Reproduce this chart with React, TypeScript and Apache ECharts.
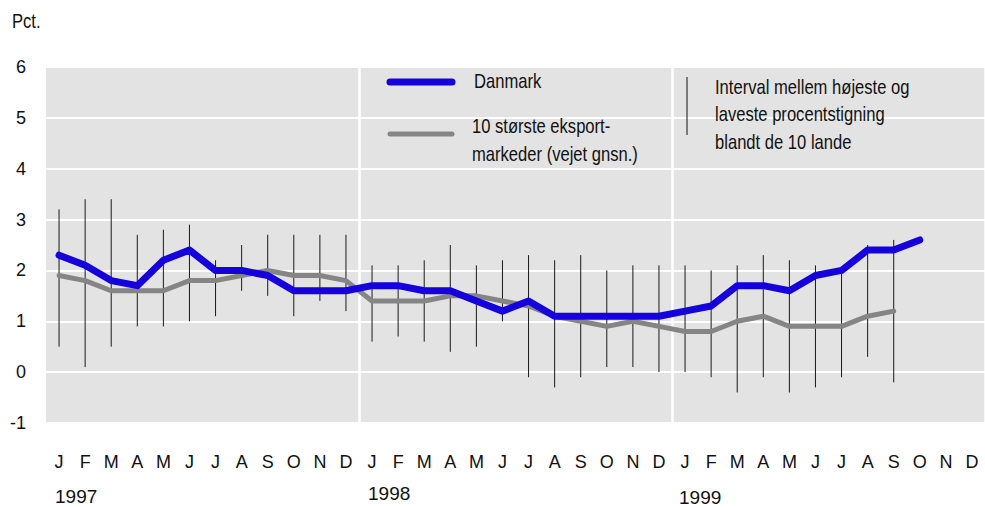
import React, { useEffect, useRef } from "react";
import * as echarts from "echarts";

const months = ["J","F","M","A","M","J","J","A","S","O","N","D","J","F","M","A","M","J","J","A","S","O","N","D","J","F","M","A","M","J","J","A","S","O","N","D"];
const years = ["1997", "1998", "1999"];
const yTicks = [-1, 0, 1, 2, 3, 4, 5, 6];

const danmark = [2.3,2.1,1.8,1.7,2.2,2.4,2.0,2.0,1.9,1.6,1.6,1.6, 1.7,1.7,1.6,1.6,1.4,1.2,1.4,1.1,1.1,1.1,1.1,1.1, 1.2,1.3,1.7,1.7,1.6,1.9,2.0,2.4,2.4,2.6];
const eksport = [1.9,1.8,1.6,1.6,1.6,1.8,1.8,1.9,2.0,1.9,1.9,1.8, 1.4,1.4,1.4,1.5,1.5,1.4,1.3,1.1,1.0,0.9,1.0,0.9, 0.8,0.8,1.0,1.1,0.9,0.9,0.9,1.1,1.2];
const high = [3.2,3.4,3.4,2.7,2.8,2.9,2.2,2.5,2.7,2.7,2.7,2.7, 2.1,2.1,2.2,2.5,2.1,2.2,2.3,2.2,2.3,2.0,2.1,2.1, 2.1,2.0,2.1,2.3,2.2,2.1,2.0,2.5,2.6];
const low = [0.5,0.1,0.5,0.9,0.9,1.0,1.1,1.6,1.5,1.1,1.4,1.2, 0.6,0.7,0.6,0.4,0.5,1.0,-0.1,-0.3,-0.1,0.1,0.1,0.0, 0.0,-0.1,-0.4,-0.1,-0.4,-0.3,-0.1,0.3,-0.2];

const legendDanmark = "Danmark";
const legendEksport = ["10 største eksport-", "markeder (vejet gnsn.)"];
const legendInterval = ["Interval mellem højeste og", "laveste procentstigning", "blandt de 10 lande"];

const FONT = '"Liberation Sans Narrow", "Arial Narrow", "Liberation Sans", Arial, sans-serif';
const BLUE = "#1500dd";
const GRAY = "#858585";
const TXT = "#111";
const SX = 0.83;

export default function App() {
  const ref = useRef<HTMLDivElement>(null);
  useEffect(() => {
    document.body.style.margin = "0";
    const chart = echarts.init(ref.current!, null, { renderer: "svg" });
    const yearLabels = months.map((_, i) => (i % 12 === 0 ? years[i / 12] : ""));
    const errData = high.map((h, i) => [i, low[i], h]);
    const legendText = (text: string, x: number, y: number) => ({
      type: "text",
      x,
      y,
      scaleX: SX,
      z: 10,
      style: { text, fontSize: 20, fontFamily: FONT, fill: TXT, verticalAlign: "middle" },
    });
    chart.setOption({
      animation: false,
      textStyle: { fontFamily: FONT },
      grid: {
        left: 46, right: -7, top: 67, bottom: 84,
        show: true, backgroundColor: "#e3e3e3", borderWidth: 0,
      },
      xAxis: [
        {
          type: "category",
          data: months,
          boundaryGap: true,
          axisLine: { show: false },
          axisTick: { show: false },
          axisLabel: { interval: 0, color: TXT, fontSize: 18, fontFamily: FONT, margin: 30 },
          splitLine: {
            show: true,
            interval: (i: number) => i === 12 || i === 24,
            lineStyle: { color: "#ffffff", width: 2.5 },
          },
        },
        {
          type: "category",
          data: yearLabels,
          position: "bottom",
          boundaryGap: true,
          axisLine: { show: false },
          axisTick: { show: false },
          splitLine: { show: false },
          axisLabel: {
            interval: 0,
            align: "left",
            color: TXT,
            fontSize: 19,
            fontFamily: FONT,
            margin: 61,
            formatter: (v: string) => {
              if (v === "1997") return "{a|" + v + "}";
              if (v === "1999") return "{c|" + v + "}";
              return v ? "{b|" + v + "}" : "";
            },
            rich: {
              a: { fontSize: 19, fontFamily: FONT, color: TXT, padding: [3, 0, 0, -4] },
              b: { fontSize: 19, fontFamily: FONT, color: TXT, padding: [0, 0, 0, -4] },
              c: { fontSize: 19, fontFamily: FONT, color: TXT, padding: [4, 0, 0, -6] },
            },
          },
        },
      ],
      yAxis: {
        type: "value",
        min: yTicks[0],
        max: yTicks[yTicks.length - 1],
        interval: 1,
        axisLine: { show: false },
        axisTick: { show: false },
        axisLabel: { color: TXT, fontSize: 18, fontFamily: FONT, margin: 20 },
        splitLine: { show: true, lineStyle: { color: "#ffffff", width: 2 } },
      },
      series: [
        {
          type: "custom",
          name: "Interval",
          data: errData,
          z: 1,
          encode: { x: 0, y: [1, 2] },
          renderItem: (params: any, api: any) => {
            const a = api.coord([api.value(0), api.value(1)]);
            const b = api.coord([api.value(0), api.value(2)]);
            return {
              type: "line",
              shape: { x1: a[0], y1: a[1], x2: b[0], y2: b[1] },
              style: { stroke: "#1a1a1a", lineWidth: 1 },
            };
          },
        },
        {
          type: "line",
          name: "10 største eksportmarkeder",
          data: eksport,
          z: 2,
          symbol: "none",
          lineStyle: { color: GRAY, width: 5, cap: "round", join: "round" },
        },
        {
          type: "line",
          name: "Danmark",
          data: danmark,
          z: 3,
          symbol: "none",
          lineStyle: { color: BLUE, width: 7, cap: "round", join: "round" },
        },
      ],
      graphic: [
        { type: "text", x: 12, y: 21, scaleX: SX, style: { text: "Pct.", fontSize: 20, fontFamily: FONT, fill: TXT, verticalAlign: "middle" } },
        { type: "line", shape: { x1: 390, y1: 82, x2: 452, y2: 82 }, style: { stroke: BLUE, lineWidth: 7, lineCap: "round" }, z: 10 },
        legendText(legendDanmark, 474, 81),
        { type: "line", shape: { x1: 390, y1: 134, x2: 452, y2: 134 }, style: { stroke: GRAY, lineWidth: 5, lineCap: "round" }, z: 10 },
        legendText(legendEksport[0], 472, 126),
        legendText(legendEksport[1], 472, 154),
        { type: "line", shape: { x1: 687, y1: 77, x2: 687, y2: 135 }, style: { stroke: "#111", lineWidth: 1 }, z: 10 },
        legendText(legendInterval[0], 715, 87),
        legendText(legendInterval[1], 715, 114),
        legendText(legendInterval[2], 715, 142),
      ],
    });
    return () => chart.dispose();
  }, []);
  return <div ref={ref} style={{ width: 985, height: 507 }} />;
}
